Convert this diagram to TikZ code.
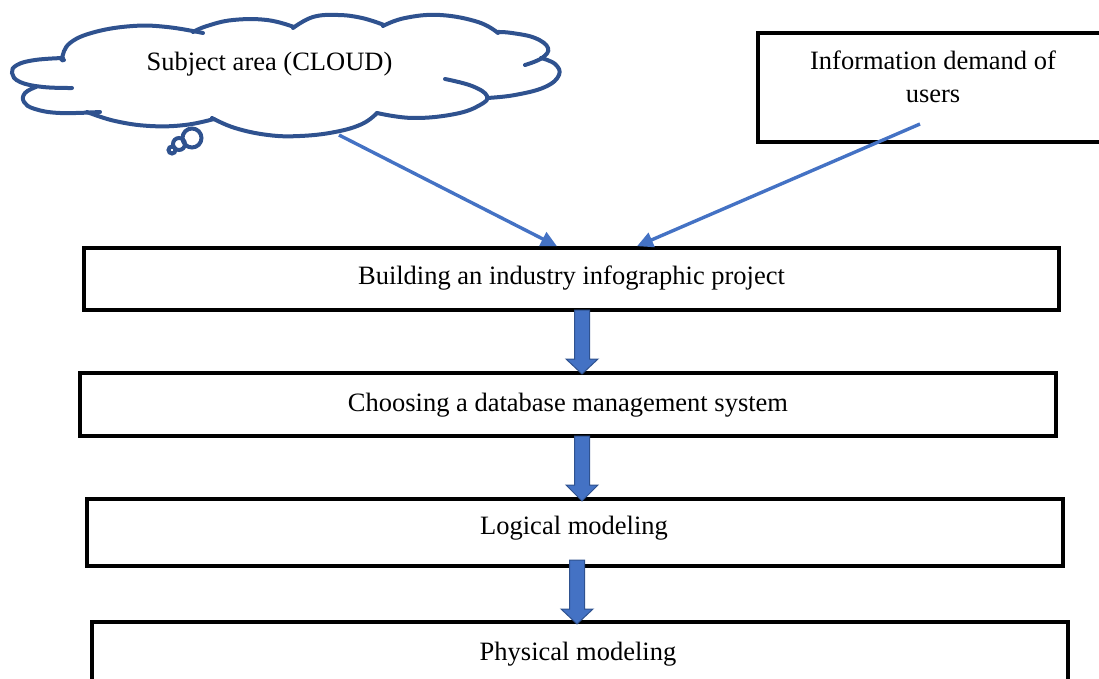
\documentclass[tikz,border=0pt]{standalone}
\usepackage{fontspec}
\setmainfont{Liberation Serif}
\usetikzlibrary{arrows.meta,calc}
\definecolor{arrowblue}{HTML}{4472C4}
\definecolor{edgeblue}{HTML}{2F528F}
\newcommand\blockarr[4]{% center x, top y, head y, tip y
  \draw[blockarrow] (#1-7.5,#2) -- (#1+7.5,#2) -- (#1+7.5,#3) -- (#1+16,#3) -- (#1,#4) -- (#1-16,#3) -- (#1-7.5,#3) -- cycle;}
\begin{document}
\begin{tikzpicture}[x=1pt,y=-1pt,
  box/.style={draw=black,line width=3.6pt,inner sep=0pt},
  lbl/.style={inner sep=0pt,font=\fontsize{26.5}{32}\selectfont},
  conn/.style={draw=arrowblue,line width=3.4pt,-{Triangle[length=16pt,width=15pt]}},
  blockarrow/.style={fill=arrowblue,draw=edgeblue,line width=1pt},
  cloudline/.style={draw=edgeblue,line width=4pt,line cap=round}]
\useasboundingbox (0,0) rectangle (1099,679);
\clip (0,0) rectangle (1099,679);
% cloud
\draw[cloudline] plot[smooth,tension=0.7] coordinates {(63,58) (35,60) (17,65) (12,73) (20,82) (43,87) (72,88)};
\draw[cloudline] plot[smooth,tension=0.7] coordinates {(36,87) (25,93) (24,102) (35,109) (60,113) (100,112)};
\draw[cloudline] plot[smooth,tension=0.7] coordinates {(87,112) (115,121) (150,126) (185,125) (214,119)};
\draw[cloudline] plot[smooth,tension=0.7] coordinates {(212,118) (235,128) (268,135) (300,136) (335,132) (362,124) (377,113)};
\draw[cloudline] plot[smooth,tension=0.7] coordinates {(377,113) (413,118) (455,114) (480,105) (487,96) (472,86) (445,79)};
\draw[cloudline] plot[smooth,tension=0.7] coordinates {(487,98) (515,95) (545,87) (559,75) (555,64) (541,58)};
\draw[cloudline] plot[smooth,tension=0.7] coordinates {(525,65) (542,58) (548,48) (535,38) (512,33) (498,32)};
\draw[cloudline] plot[smooth,tension=0.7] coordinates {(498,33) (478,22) (440,15) (405,18) (383,26)};
\draw[cloudline] plot[smooth,tension=0.7] coordinates {(384,25) (362,18) (338,15) (313,17) (293,28)};
\draw[cloudline] plot[smooth,tension=0.7] coordinates {(294,27) (267,20) (233,20) (207,26) (193,32)};
\draw[cloudline] plot[smooth,tension=0.7] coordinates {(203,33) (167,27) (133,26) (95,32) (70,43) (62,58) (64,60)};
\draw[cloudline] (192,138) circle[radius=9.5];
\draw[cloudline] (179,144) circle[radius=6];
\draw[cloudline] (172,150) circle[radius=3.5];
\node[lbl,anchor=base] (cloudtxt) at (269.5,71) {Subject area (CLOUD)};
\coordinate (cloudout) at (339,135);
% information box
\node[box,minimum width=350pt,minimum height=109pt] (info) at (933,87.5) {};
\node[lbl,anchor=base] (info1) at (933,70) {Information demand of};
\node[lbl,anchor=base] (info2) at (933,103) {users};
\coordinate (infoout) at (920,124);
% flow boxes
\node[box,minimum width=975pt,minimum height=62pt] (b1) at (571.5,279) {};
\node[lbl,anchor=base] (t1) at (571.5,284) {Building an industry infographic project};
\node[box,minimum width=976pt,minimum height=63pt] (b2) at (568,404.5) {};
\node[lbl,anchor=base] (t2) at (568,411) {Choosing a database management system};
\node[box,minimum width=976pt,minimum height=67pt] (b3) at (575,532.5) {};
\node[lbl,anchor=base] (t3) at (574,534) {Logical modeling};
\node[box,minimum width=976pt,minimum height=100pt] (b4) at (580,672) {};
\node[lbl,anchor=base] (t4) at (578,660) {Physical modeling};
% connectors
\draw[conn] (cloudout) -- ($(b1.north)+(-14.5,0)$);
\draw[conn] (infoout) -- ($(b1.north)+(65.5,0)$);
\blockarr{582}{310}{359}{374}
\blockarr{582}{436}{485}{501}
\blockarr{577}{560}{609}{624}
\end{tikzpicture}
\end{document}
